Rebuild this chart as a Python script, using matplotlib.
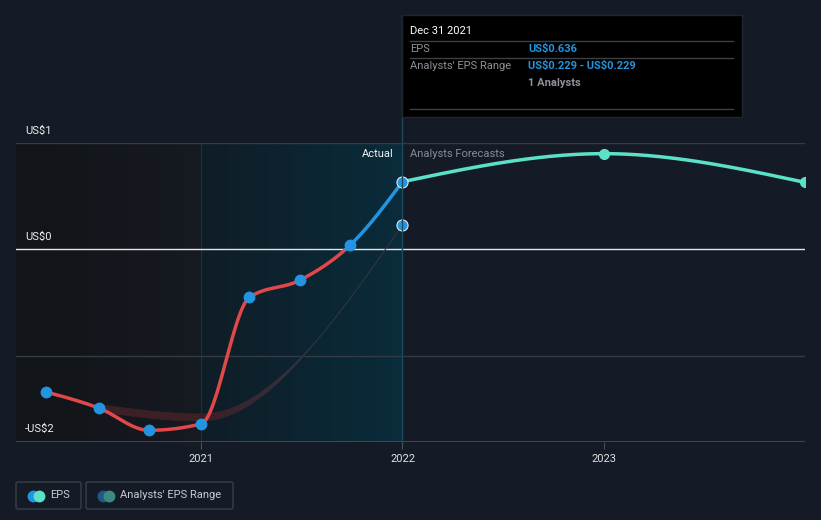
import numpy as np
import matplotlib
matplotlib.use('Agg')
import matplotlib.pyplot as plt
from matplotlib.collections import LineCollection
from matplotlib.patches import Rectangle, FancyBboxPatch
import matplotlib.colors as mcolors

plt.rcParams['font.family'] = ['Roboto', 'DejaVu Sans']

# data (decimal years, US$)
eps_t = [2020.23, 2020.49, 2020.74, 2021.0, 2021.24, 2021.49, 2021.74, 2022.0]
eps_v = [-1.34, -1.49, -1.70, -1.64, -0.45, -0.29, 0.04, 0.636]
fc_t = [2022.0, 2023.0, 2024.0]
fc_v = [0.636, 0.90, 0.63]
rng_t = [2020.49, 2021.0, 2022.0]
rng_v = [-1.49, -1.58, 0.229]
xticks = [2021, 2022, 2023]
yticks = [1, 0, -1]
ylabels = {1: 'US$1', 0: 'US$0', -1.81: '-US$2'}

BG = '#151b26'
RED = '#e0484a'
BLUE = '#2394df'
TEAL = '#5ce1c9'
W, H = 821, 520


def monotone(x, y, n=60):
    # monotone cubic like d3.curveMonotoneX
    x = np.asarray(x, float); y = np.asarray(y, float)
    h = np.diff(x); s = np.diff(y) / h
    m = np.zeros(len(x))
    for i in range(1, len(x) - 1):
        p = (s[i-1] * h[i] + s[i] * h[i-1]) / (h[i-1] + h[i])
        m[i] = (np.sign(s[i-1]) + np.sign(s[i])) * min(abs(s[i-1]), abs(s[i]), 0.5 * abs(p))
    if len(x) > 2:
        m[0] = (3 * s[0] - m[1]) / 2
        m[-1] = (3 * s[-1] - m[-2]) / 2
    else:
        m[:] = s[0]
    xs, ys = [], []
    for i in range(len(h)):
        t = np.linspace(0, 1, n)
        h00 = 2*t**3 - 3*t**2 + 1; h10 = t**3 - 2*t**2 + t
        h01 = -2*t**3 + 3*t**2; h11 = t**3 - t**2
        xs.append(x[i] + t * h[i])
        ys.append(h00*y[i] + h10*h[i]*m[i] + h01*y[i+1] + h11*h[i]*m[i+1])
    return np.concatenate(xs), np.concatenate(ys)


fig = plt.figure(figsize=(W/100, H/100), dpi=100, facecolor=BG)
ax = fig.add_axes([16/W, (H-442)/H, (805-16)/W, (442-143)/H])
ax.set_facecolor(BG)
x0, x1 = 2020.08, 2024.0
y0, y1 = -1.81, 1.0
ax.set_xlim(x0, x1)
ax.set_ylim(y0, y1)

# background shading
grad = np.linspace(0, 1, 256).reshape(1, -1)
cm_left = mcolors.LinearSegmentedColormap.from_list('l', ['#111418', '#161a21'])
ax.imshow(grad, extent=[x0, 2021.0, y0, y1], aspect='auto', cmap=cm_left, zorder=0)
cm_mid = mcolors.LinearSegmentedColormap.from_list('m', ['#0f1d27', '#0a2c3b'])
ax.imshow(grad, extent=[2021.0, 2022.0, y0, y1], aspect='auto', cmap=cm_mid, zorder=0)
ax.axvline(2021.0, color='#1c3340', lw=0.8, zorder=1)

# gridlines
for v in yticks:
    if v == 0:
        ax.axhline(v, color='#e6e6e6', lw=1, zorder=2)
    else:
        ax.axhline(v, color='#353b44', lw=1, zorder=1)
ax.axhline(y0 + 0.002, color='#4a4f57', lw=1.2, zorder=2)

for s in ax.spines.values():
    s.set_visible(False)
ax.set_yticks([])
ax.set_xticks(xticks)
ax.set_xticklabels([str(t) for t in xticks], color='#e0e0e0', fontsize=8)
ax.tick_params(axis='x', length=5, color='#4a4f57', pad=4)

# analysts range band
bx, by = monotone(rng_t, rng_v, 80)
pts = np.column_stack([bx, by]).reshape(-1, 1, 2)
segs = np.concatenate([pts[:-1], pts[1:]], axis=1)
mid = (bx[:-1] + bx[1:]) / 2
f = np.clip((mid - 2021.05) / 0.5, 0, 1)
widths = 5.5 * (1 - f) + 0.8 * f
c_a = np.array(mcolors.to_rgb('#3b2026'))
c_b = np.array(mcolors.to_rgb('#2f3540'))
cols = [tuple(c_a * (1 - k) + c_b * k) for k in f]
ax.add_collection(LineCollection(segs, linewidths=widths, colors=cols, zorder=3, capstyle='round'))

# EPS line coloured by sign
ex, ey = monotone(eps_t, eps_v, 80)
ax.plot(ex, np.where(ey <= 0, ey, np.nan), color=RED, lw=2.5, zorder=4, solid_capstyle='round')
pos = np.where(ey >= 0, ey, np.nan)
ax.plot(ex, pos, color=BLUE, lw=2.5, zorder=4, solid_capstyle='round')
ax.plot(eps_t[:-1], eps_v[:-1], 'o', color=BLUE, ms=7.5, mec=BLUE, zorder=6)

# forecast
fx, fy = monotone(fc_t, fc_v, 80)
ax.plot(fx, fy, color=TEAL, lw=2.5, zorder=4)
ax.plot(fc_t[1:], fc_v[1:], 'o', color=TEAL, ms=7, zorder=6)
ax.plot([eps_t[-1]], [eps_v[-1]], 'o', color=BLUE, ms=8, mec='#dfe8f0', mew=0.8, zorder=7)
ax.plot([rng_t[-1]], [rng_v[-1]], 'o', color=BLUE, ms=8, mec='#dfe8f0', mew=0.8, zorder=7)

# overlay in pixel coordinates
ov = fig.add_axes([0, 0, 1, 1], zorder=10)
ov.set_xlim(0, W); ov.set_ylim(H, 0); ov.axis('off')
ov.patch.set_alpha(0)

ov.plot([402, 402], [15, 442], color='#1f4a5a', lw=1, zorder=1)
for v, lab in ylabels.items():
    py = 249 - v * 106
    ov.text(25, py - 12, lab, color='#f0f0f0', fontsize=8, va='center', ha='left', parse_math=False)
ov.text(394, 154, 'Actual', color='#f0f0f0', fontsize=8, ha='right', va='center')
ov.text(410, 154, 'Analysts Forecasts', color='#878c94', fontsize=8, ha='left', va='center')

# tooltip
ov.add_patch(Rectangle((402, 15), 340, 102, facecolor='#000000', edgecolor='#1e2630', lw=1, zorder=5))
for ly in (41, 58, 109):
    ov.plot([410, 733], [ly, ly], color='#3c3f44', lw=1, zorder=6)
tkw = dict(fontsize=8, va='center', zorder=7, parse_math=False)
ov.text(410, 31, 'Dec 31 2021', color='#ffffff', **tkw)
ov.text(410, 49, 'EPS', color='#8e9197', **tkw)
ov.text(528, 49, 'US$0.636', color=BLUE, fontweight='bold', **tkw)
ov.text(410, 66, "Analysts' EPS Range", color='#8e9197', **tkw)
ov.text(528, 66, 'US$0.229 - US$0.229', color=BLUE, fontweight='bold', **tkw)
ov.text(528, 83, '1 Analysts', color='#8e9197', fontweight='bold', **tkw)

# legend
for (lx, lw_, txt, c1, c2) in [(16, 65, 'EPS', BLUE, TEAL), (86, 147, "Analysts' EPS Range", '#1f5a85', '#3d8a80')]:
    ov.add_patch(FancyBboxPatch((lx, 482), lw_, 27, boxstyle='round,pad=0,rounding_size=2',
                                facecolor='none', edgecolor='#3a3f47', lw=1))
    ov.plot([lx + 17], [495.5], 'o', color=c1, ms=7.5)
    ov.plot([lx + 23], [495.5], 'o', color=c2, ms=7.5)
    ov.text(lx + 34, 495.5, txt, color='#c8cbd0', fontsize=8, va='center')

fig.savefig('out.png', dpi=100, facecolor=BG)
